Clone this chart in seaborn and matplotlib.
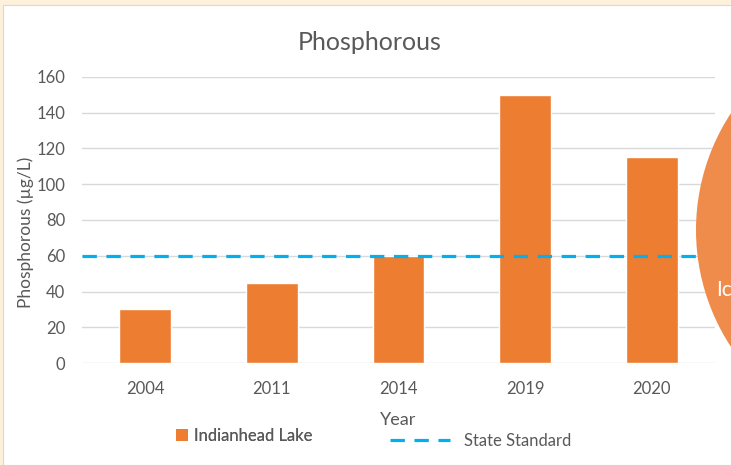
import matplotlib
matplotlib.use("Agg")
import matplotlib.pyplot as plt
import seaborn as sns
import pandas as pd
from matplotlib.patches import Rectangle, Ellipse, Patch
from matplotlib.lines import Line2D

years = ["2004", "2011", "2014", "2019", "2020"]
phosphorous = [30, 45, 60, 150, 115]
state_standard = 60
yticks = [0, 20, 40, 60, 80, 100, 120, 140, 160]

sns.set_theme(style="white")
plt.rcParams['font.family'] = ['Lato', 'DejaVu Sans']

W, H = 731, 465
fig = plt.figure(figsize=(W / 100, H / 100), dpi=100)
fig.patch.set_facecolor("#FDF1DB")
fig.add_artist(Rectangle((3 / W, 0), 1, 1 - 5 / H, transform=fig.transFigure,
                         facecolor="white", edgecolor="#D9D9D9", lw=0.8, zorder=-5))

ax = fig.add_axes([82 / W, 1 - 363 / H, (715 - 82) / W, (363 - 77) / H])
ax.set_zorder(1)
ax.set_facecolor("none")
df = pd.DataFrame({"Year": years, "Phosphorous": phosphorous})
sns.barplot(data=df, x="Year", y="Phosphorous", color="#ED7D31", width=0.41,
            saturation=1, ax=ax, zorder=3)
ax.axhline(state_standard, color="#00B0F0", lw=2.3, dashes=(4.5, 3), zorder=4)

ax.set_ylim(0, 160)
ax.set_yticks(yticks)
ax.set_xlim(-0.5, 4.5)
ax.grid(axis="y", color="#D9D9D9", lw=1, zorder=0)
ax.set_axisbelow(True)
for s in ax.spines.values():
    s.set_visible(False)
ax.tick_params(axis="both", length=0, labelsize=12, labelcolor="#595959")
ax.tick_params(axis="y", pad=12)
ax.tick_params(axis="x", pad=13)
ax.set_xlabel("Year", fontsize=13, color="#595959", labelpad=11)
ax.set_ylabel("Phosphorous (µg/L)", fontsize=12.5, color="#595959")
ax.yaxis.set_label_coords((34 - 82) / 633, (363 - 232) / 286)

fig.text(370 / W, 1 - 42 / H, "Phosphorous", ha="center", va="center",
         fontsize=18, color="#595959", family=["Lato", "DejaVu Sans"])

leg1 = fig.legend(handles=[Patch(facecolor="#ED7D31", edgecolor="none", label="Indianhead Lake")],
                  loc="center left", bbox_to_anchor=(176 / W, 1 - 436 / H), frameon=False,
                  fontsize=12, handlelength=0.7, handleheight=0.7, handletextpad=0.35,
                  borderpad=0, borderaxespad=0, labelcolor="#595959")
fig.add_artist(leg1)
leg2 = fig.legend(handles=[Line2D([], [], color="#00B0F0", lw=2.3, dashes=(4.5, 3), label="State Standard")],
                  loc="center left", bbox_to_anchor=(390 / W, 1 - 441 / H), frameon=False,
                  fontsize=12, handlelength=3.6, handletextpad=0.85,
                  borderpad=0, borderaxespad=0, labelcolor="#595959")

r = 213
circle = Ellipse((909 / W, 1 - 230 / H), 2 * r / W, 2 * r / H, transform=fig.transFigure,
                 facecolor="#EF8B4B", edgecolor="none", zorder=10, clip_on=False)
ax.add_artist(circle)
fig.text(716 / W, 1 - 290 / H, "Ic", ha="left", va="center", fontsize=15, color="white", zorder=11)

fig.savefig("out.png", dpi=100)
